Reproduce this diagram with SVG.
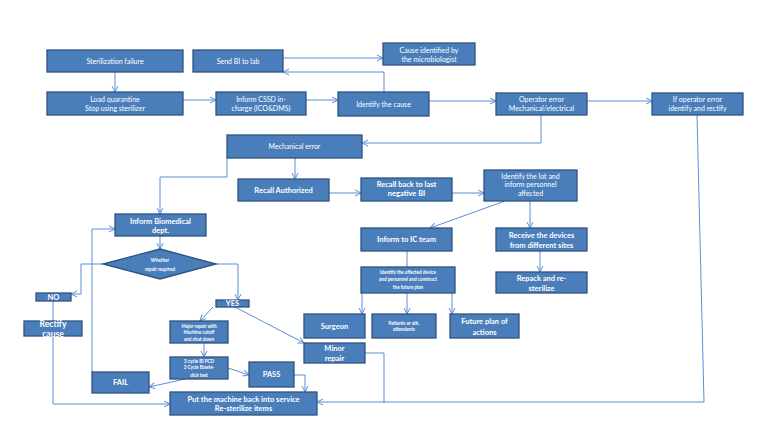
<svg xmlns="http://www.w3.org/2000/svg" width="768" height="433" viewBox="0 0 768 433">
<defs>
<marker id="ah" markerWidth="8" markerHeight="8" refX="7" refY="4" orient="auto" markerUnits="userSpaceOnUse">
<polyline points="1,1 7,4 1,7" fill="none" stroke="#5b8ed6" stroke-width="1"/>
</marker>
<style>
.b{fill:#4a7ebb;stroke:#2f5280;stroke-width:1.3}
.t{fill:#ffffff;font-family:Lato,"Liberation Sans",sans-serif;font-size:7px;text-anchor:middle}
.tb{fill:#ffffff;font-family:Lato,"Liberation Sans",sans-serif;font-size:7.5px;font-weight:bold;text-anchor:middle}
.ts{fill:#ffffff;font-family:Lato,"Liberation Sans",sans-serif;font-size:4.6px;font-weight:bold;text-anchor:middle}
.c{fill:none;stroke:#5b8ed6;stroke-width:1}
.a{marker-end:url(#ah)}
</style>
</defs>
<rect width="768" height="433" fill="#ffffff"/>
<g id="connectors">
<path class="c a" d="M115,72 V92"/>
<path class="c a" d="M183,100 H216"/>
<path class="c a" d="M306,100 H338"/>
<path class="c a" d="M429,101 H496"/>
<path class="c a" d="M587,101 H652"/>
<path class="c a" d="M283,58 H383"/>
<path class="c a" d="M384,92 V72 H283"/>
<path class="c a" d="M541,115 V143 H362"/>
<path class="c a" d="M697,115 L704,402 H317"/>
<path class="c a" d="M295,158 V179"/>
<path class="c a" d="M227,158 V177 H160 V214"/>
<path class="c a" d="M329,193 H361"/>
<path class="c a" d="M452,193 H484"/>
<path class="c a" d="M505,201 L430,228"/>
<path class="c a" d="M530,201 V228"/>
<path class="c a" d="M540,251 V272"/>
<path class="c" d="M407,251 V267"/>
<path class="c a" d="M362,293 V314"/>
<path class="c a" d="M407,293 V314"/>
<path class="c a" d="M452,293 V314"/>
<path class="c a" d="M160,236 V249"/>
<path class="c a" d="M103,264 H81 V294 H71"/>
<path class="c a" d="M216,264 H238 V300"/>
<path class="c" d="M53,301 V321"/>
<path class="c a" d="M53,336 V404 H170"/>
<path class="c a" d="M213,307 L200,321"/>
<path class="c a" d="M235,307 L304,343"/>
<path class="c a" d="M204,343 V357"/>
<path class="c a" d="M228,368 L249,375"/>
<path class="c a" d="M185,379 L149,387"/>
<path class="c a" d="M294,375 H305 V392"/>
<path class="c" d="M365,353 H384 V403"/>
<path class="c a" d="M92,372 V229 H115"/>
</g>
<g id="n-sterilization-failure"><rect class="b" x="47" y="50" width="136" height="22"/><text class="t" x="115" y="63.5">Sterilization failure</text></g>
<g id="n-send-bi"><rect class="b" x="193" y="50" width="90" height="22"/><text class="t" x="238" y="63.5">Send BI to lab</text></g>
<g id="n-cause-identified"><rect class="b" x="383" y="43" width="92" height="22"/><text class="t" x="429" y="52.5">Cause identified by</text><text class="t" x="429" y="61.5">the microbiologist</text></g>
<g id="n-load-quarantine"><rect class="b" x="47" y="92" width="136" height="23"/><text class="t" x="115" y="101.5">Load quarantine</text><text class="t" x="115" y="110.5">Stop using sterilizer</text></g>
<g id="n-inform-cssd"><rect class="b" x="216" y="92" width="90" height="23"/><text class="t" x="261" y="101.5">Inform CSSD in-</text><text class="t" x="261" y="110.5">charge (ICO&amp;DMS)</text></g>
<g id="n-identify-cause"><rect class="b" x="338" y="92" width="91" height="24"/><text class="t" x="383.5" y="106.5">Identify the cause</text></g>
<g id="n-operator-error"><rect class="b" x="496" y="93" width="91" height="22"/><text class="t" x="541.5" y="102">Operator error</text><text class="t" x="541.5" y="111">Mechanical/electrical</text></g>
<g id="n-if-operator"><rect class="b" x="652" y="93" width="91" height="22"/><text class="t" x="697.5" y="102">If operator error</text><text class="t" x="697.5" y="111">identify and rectify</text></g>
<g id="n-mechanical-error"><rect class="b" x="227" y="135" width="135" height="23"/><text class="t" x="294.5" y="149">Mechanical error</text></g>
<g id="n-recall-authorized"><rect class="b" x="238" y="179" width="91" height="22"/><text class="tb" x="283.5" y="192.5">Recall Authorized</text></g>
<g id="n-recall-back"><rect class="b" x="361" y="178" width="91" height="23"/><text class="tb" x="406.5" y="186.5">Recall back to last</text><text class="tb" x="406.5" y="196">negative BI</text></g>
<g id="n-identify-lot"><rect class="b" x="484" y="170" width="93" height="31"/><text class="t" x="530.5" y="178.5">Identify the lot and</text><text class="t" x="530.5" y="187.3">inform personnel</text><text class="t" x="530.5" y="196">affected</text></g>
<g id="n-inform-ic"><rect class="b" x="361" y="228" width="91" height="23"/><text class="tb" x="406.5" y="242">Inform to IC team</text></g>
<g id="n-receive-devices"><rect class="b" x="496" y="228" width="91" height="23"/><text class="tb" x="541.5" y="237.5">Receive the devices</text><text class="tb" x="541.5" y="247.5">from different sites</text></g>
<g id="n-repack"><rect class="b" x="496" y="272" width="91" height="21"/><text class="tb" x="541.5" y="280.5">Repack and re-</text><text class="tb" x="541.5" y="290.5">sterilize</text></g>
<g id="n-identify-affected"><rect class="b" x="361" y="267" width="94" height="26"/><text class="ts" x="408" y="273.8">Identify the affected device</text><text class="ts" x="408" y="280.8">and personnel and construct</text><text class="ts" x="408" y="289">the future plan</text></g>
<g id="n-surgeon"><rect class="b" x="304" y="314" width="61" height="24"/><text class="tb" x="334.5" y="328.5">Surgeon</text></g>
<g id="n-patients"><rect class="b" x="372" y="314" width="64" height="24"/><text class="ts" x="404" y="324.5">Patients or ath.</text><text class="ts" x="404" y="330.5">attendants</text></g>
<g id="n-future-plan"><rect class="b" x="450" y="314" width="69" height="24"/><text class="tb" x="484.5" y="323.5">Future plan of</text><text class="tb" x="484.5" y="334.5">actions</text></g>
<g id="n-minor-repair"><rect class="b" x="304" y="343" width="61" height="20"/><text class="tb" x="334.5" y="350.5">Minor</text><text class="tb" x="334.5" y="360.5">repair</text></g>
<g id="n-inform-biomedical"><rect class="b" x="115" y="214" width="91" height="22"/><text class="tb" x="160.5" y="223.5">Inform Biomedical</text><text class="tb" x="160.5" y="232.5">dept.</text></g>
<g id="n-whether"><polygon class="b" points="160,249 216,264 160,279 103,264"/><text class="ts" x="160" y="261.6">Whether</text><text class="ts" x="160" y="270.6">repair required</text></g>
<g id="n-no"><rect class="b" x="36" y="293" width="35" height="8"/><text class="tb" x="53.5" y="299.6">NO</text></g>
<g id="n-yes"><rect class="b" x="216" y="300" width="33" height="7"/><text class="tb" x="232.5" y="306.2">YES</text></g>
<g id="n-rectify"><rect class="b" x="24" y="321" width="58" height="15"/><text class="tb" x="53" y="327" style="font-size:8.5px">Rectify</text><text class="tb" x="53" y="337" style="font-size:8.5px">cause</text></g>
<g id="n-major-repair"><rect class="b" x="170" y="321" width="58" height="22"/><text class="ts" x="199" y="327.6">Major repair with</text><text class="ts" x="199" y="334.4">Machine cutoff</text><text class="ts" x="199" y="341">and shut down</text></g>
<g id="n-3cycle"><rect class="b" x="170" y="357" width="58" height="22"/><text class="ts" x="199" y="362.6">3 cycle BI  PCD</text><text class="ts" x="199" y="369">3 Cycle Bowie-</text><text class="ts" x="199" y="377">dick test</text></g>
<g id="n-pass"><rect class="b" x="249" y="362" width="45" height="25"/><text class="tb" x="271.5" y="377">PASS</text></g>
<g id="n-fail"><rect class="b" x="92" y="372" width="57" height="21"/><text class="tb" x="120.5" y="385">FAIL</text></g>
<g id="n-put-machine"><rect class="b" x="170" y="392" width="147" height="23"/><text class="tb" x="243.5" y="401.5">Put the machine back into service</text><text class="tb" x="243.5" y="411">Re-sterilize items</text></g>
</svg>
